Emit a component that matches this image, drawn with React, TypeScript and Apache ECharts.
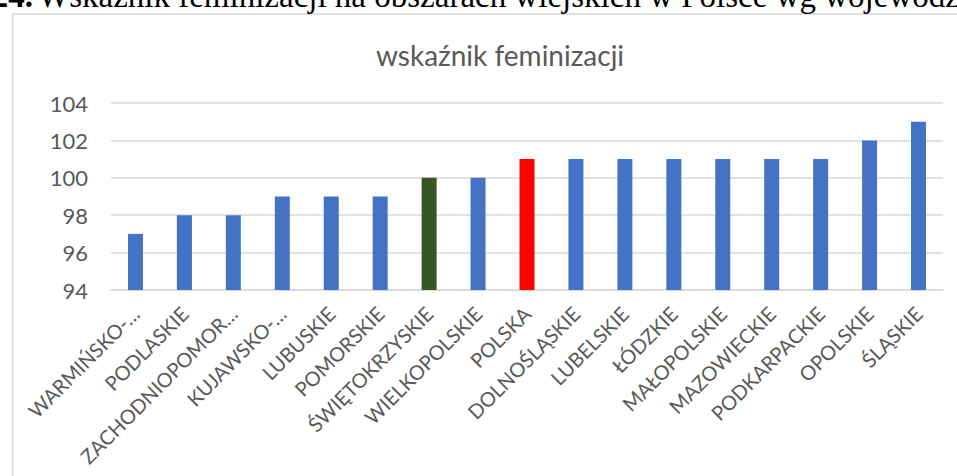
import React, { useEffect, useRef } from "react";
import * as echarts from "echarts";

const categories = [
  "WARMIŃSKO-…",
  "PODLASKIE",
  "ZACHODNIOPOMOR…",
  "KUJAWSKO-…",
  "LUBUSKIE",
  "POMORSKIE",
  "ŚWIĘTOKRZYSKIE",
  "WIELKOPOLSKIE",
  "POLSKA",
  "DOLNOŚLĄSKIE",
  "LUBELSKIE",
  "ŁÓDZKIE",
  "MAŁOPOLSKIE",
  "MAZOWIECKIE",
  "PODKARPACKIE",
  "OPOLSKIE",
  "ŚLĄSKIE",
];

const values = [97, 98, 98, 99, 99, 99, 100, 100, 101, 101, 101, 101, 101, 101, 101, 102, 103];

const yTicks = { min: 94, max: 104, interval: 2 };

const chartTitle = "wskaźnik feminizacji";
const captionNumber = "24.";
const captionText = "Wskaźnik feminizacji na obszarach wiejskich w Polsce wg województw";

const BLUE = "#4472C4";
const specialColors: Record<string, string> = {
  "ŚWIĘTOKRZYSKIE": "#375623",
  POLSKA: "#FF0000",
};

export default function App() {
  const ref = useRef<HTMLDivElement>(null);

  useEffect(() => {
    if (!ref.current) return;
    const chart = echarts.init(ref.current, undefined, { renderer: "svg" });
    const font = "Lato, 'Noto Sans', sans-serif";
    chart.setOption({
      animation: false,
      backgroundColor: "#ffffff",
      title: {
        text: chartTitle,
        left: 495,
        textAlign: "center",
        top: 36,
        textStyle: {
          fontFamily: font,
          fontSize: 28,
          fontWeight: "normal",
          color: "#595959",
        },
      },
      graphic: [
        {
          type: "rect",
          shape: { x: 12.5, y: 14, width: 1000, height: 600 },
          style: { fill: "none", stroke: "#d9d9d9", lineWidth: 1.5 },
          silent: true,
        },
        {
          type: "text",
          x: 33,
          y: -4.5,
          style: {
            text: captionNumber,
            fontFamily: "'Liberation Serif', serif",
            fontSize: 33,
            fontWeight: "bold",
            fill: "#000",
            align: "right",
            verticalAlign: "middle",
          },
        },
        {
          type: "text",
          x: 38,
          y: -4.5,
          style: {
            text: captionText,
            fontFamily: "'Liberation Serif', serif",
            fontSize: 33,
            fill: "#000",
            align: "left",
            verticalAlign: "middle",
          },
        },
      ],
      grid: {
        left: 111,
        right: 14,
        top: 103,
        bottom: 186,
        containLabel: false,
        outerBoundsMode: "none",
      },
      xAxis: {
        type: "category",
        data: categories,
        axisLine: { show: true, lineStyle: { color: "#d9d9d9", width: 1.5 } },
        axisTick: { show: false },
        axisLabel: {
          rotate: 45,
          interval: 0,
          margin: 20,
          fontFamily: font,
          fontSize: 20,
          color: "#595959",
        },
      },
      yAxis: {
        type: "value",
        min: yTicks.min,
        max: yTicks.max,
        interval: yTicks.interval,
        axisLine: { show: false },
        axisTick: { show: false },
        splitLine: { lineStyle: { color: "#d9d9d9", width: 1.5 } },
        axisLabel: {
          margin: 23,
          fontFamily: font,
          fontSize: 22,
          color: "#595959",
        },
      },
      series: [
        {
          type: "bar",
          barWidth: 15,
          data: values.map((v, i) => ({
            value: v,
            itemStyle: { color: specialColors[categories[i]] || BLUE },
          })),
        },
      ],
    });
    return () => chart.dispose();
  }, []);

  return (
    <div
      ref={ref}
      style={{ position: "fixed", left: 0, top: 0, width: 957, height: 476 }}
    />
  );
}
